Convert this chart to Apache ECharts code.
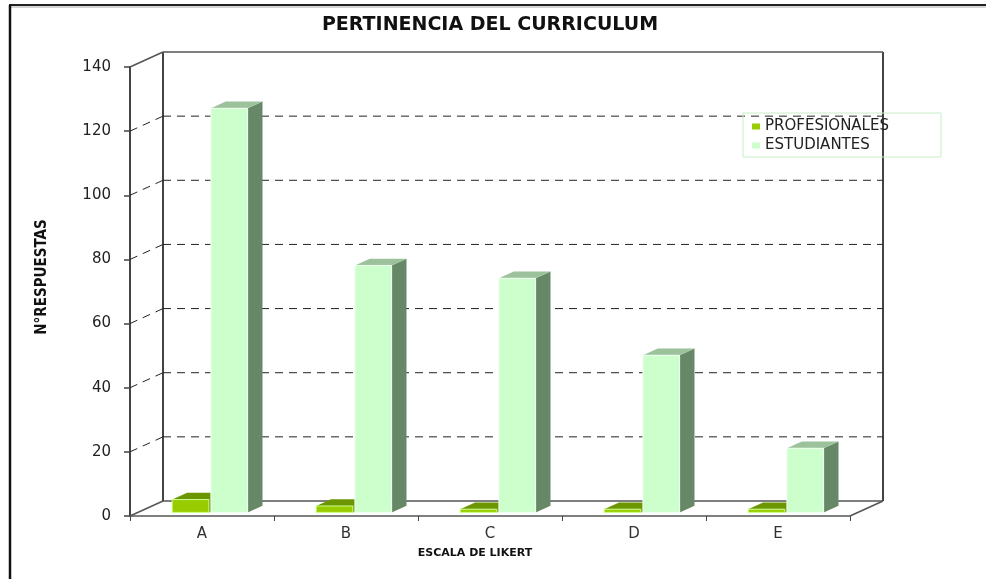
<!DOCTYPE html>
<html><head><meta charset="utf-8">
<script src="https://cdn.jsdelivr.net/npm/echarts@6/dist/echarts.min.js"></script>
<style>html,body{margin:0;padding:0;background:#fff}#c{width:986px;height:579px}</style>
</head><body><div id="c"></div>
<script>
const categories = ['A', 'B', 'C', 'D', 'E'];
const profesionales = [4, 2, 1, 1, 1];
const estudiantes = [126, 77, 73, 49, 20];
const yTicks = [0, 20, 40, 60, 80, 100, 120, 140];
const seriesNames = ['PROFESIONALES', 'ESTUDIANTES'];

const DX = 33, DY = -15;   // depth of the 3D box
const F = 0.24;            // front plane of bars (fraction of depth)
const BD = 0.45;           // bar depth (fraction of depth)

function makeBar(side, c) {
  return function (params, api) {
    const ci = api.value(0), v = api.value(1);
    const base = api.coord([ci, 0]);
    const top = api.coord([ci, v]);
    const band = api.size([1, 0])[0];
    const w = band * 0.255;
    const cx = base[0] + DX * F;
    const x0 = side < 0 ? cx - 1 - w : cx + 1;
    const x1 = x0 + w;
    const yb = base[1] + DY * F, yt = top[1] + DY * F;
    const ddx = DX * BD, ddy = DY * BD;
    return {
      type: 'group', children: [
        { type: 'polygon', shape: { points: [[x1, yb], [x1 + ddx, yb + ddy], [x1 + ddx, yt + ddy], [x1, yt]] }, style: { fill: c.side } },
        { type: 'polygon', shape: { points: [[x0, yt], [x0 + ddx, yt + ddy], [x1 + ddx, yt + ddy], [x1, yt]] }, style: { fill: c.top } },
        { type: 'rect', shape: { x: x0, y: yt, width: w, height: yb - yt }, style: { fill: c.front, stroke: c.edge, lineWidth: 1 } }
      ]
    };
  };
}

function renderBg(params, api) {
  const v = api.value(1);
  const cs = params.coordSys;
  const L = cs.x, R = cs.x + cs.width;
  const y = api.coord([0, v])[1];
  const first = v === yTicks[0], last = v === yTicks[yTicks.length - 1];
  const edge = first || last;
  const ls = edge ? { stroke: '#555', lineWidth: 1.5 } : { stroke: '#222', lineWidth: 1, lineDash: [8, 6] };
  const children = [
    { type: 'line', shape: { x1: L, y1: y, x2: L + DX, y2: y + DY }, style: ls },
    { type: 'line', shape: { x1: L + DX, y1: y + DY, x2: R + DX, y2: y + DY }, style: ls }
  ];
  if (first) {
    const yTop = api.coord([0, yTicks[yTicks.length - 1]])[1];
    children.push({ type: 'line', shape: { x1: L + DX, y1: yTop + DY, x2: L + DX, y2: y + DY }, style: { stroke: '#444', lineWidth: 2 } });
    children.push({ type: 'line', shape: { x1: R + DX, y1: yTop + DY, x2: R + DX, y2: y + DY }, style: { stroke: '#444', lineWidth: 2 } });
    children.push({ type: 'line', shape: { x1: R, y1: y, x2: R + DX, y2: y + DY }, style: { stroke: '#555', lineWidth: 1.5 } });
  }
  return { type: 'group', children };
}

const chart = echarts.init(document.getElementById('c'));
chart.setOption({
  animation: false,
  backgroundColor: '#fff',
  title: {
    text: 'PERTINENCIA DEL CURRICULUM', left: 485, top: 11, textAlign: 'center',
    textStyle: { fontFamily: 'DejaVu Sans', fontWeight: 'bold', fontSize: 19, color: '#111' }
  },
  legend: {
    data: seriesNames, orient: 'vertical', left: 743, top: 113,
    itemWidth: 8, itemHeight: 6, itemGap: 4, icon: 'rect',
    borderColor: '#c6efc6', borderWidth: 1, padding: [6, 52, 4, 9],
    textStyle: { fontFamily: 'DejaVu Sans', fontSize: 15, color: '#222' }
  },
  grid: { left: 130, right: 136, top: 67, bottom: 63, containLabel: false },
  xAxis: {
    type: 'category', data: categories,
    axisLine: { lineStyle: { color: '#555', width: 1.5 } },
    axisTick: { show: true, length: 5, lineStyle: { color: '#444' } },
    axisLabel: { color: '#333', fontSize: 15, fontFamily: 'DejaVu Sans', margin: 11 },
    name: 'ESCALA DE LIKERT', nameLocation: 'middle', nameGap: 32,
    nameTextStyle: { fontFamily: 'DejaVu Sans', fontWeight: 'bold', fontSize: 11, color: '#111', padding: [0, 30, 0, 0] }
  },
  yAxis: {
    type: 'value', min: 0, max: 140, interval: 20,
    axisLine: { show: true, lineStyle: { color: '#444', width: 2 } },
    axisTick: { show: true, length: 6, lineStyle: { color: '#444', width: 1.5 } },
    axisLabel: { color: '#222', fontSize: 15, fontFamily: 'DejaVu Sans', margin: 19 },
    splitLine: { show: false }
  },
  graphic: [
    { type: 'line', shape: { x1: 9, y1: 5, x2: 986, y2: 5 }, style: { stroke: '#222', lineWidth: 2 } },
    { type: 'line', shape: { x1: 9, y1: 7, x2: 986, y2: 7 }, style: { stroke: '#aaa', lineWidth: 1 } },
    { type: 'line', shape: { x1: 10, y1: 5, x2: 10, y2: 579 }, style: { stroke: '#111', lineWidth: 2.5 } },
    { type: 'text', x: 42, y: 277, rotation: Math.PI / 2,
      style: { text: 'N°RESPUESTAS', align: 'center', verticalAlign: 'middle', fill: '#111',
        font: 'bold 15px "DejaVu Sans Condensed", "DejaVu Sans"' } }
  ],
  series: [
    { type: 'custom', name: 'bg', z: 1, silent: true, renderItem: renderBg,
      data: yTicks.map(v => [0, v]), encode: { x: 0, y: 1 } },
    { type: 'custom', name: seriesNames[0], z: 2, itemStyle: { color: '#99cc00' },
      renderItem: makeBar(-1, { front: '#99cc00', top: '#6b9600', side: '#5e8200', edge: '#ccff88' }),
      data: profesionales.map((v, i) => [i, v]), encode: { x: 0, y: 1 } },
    { type: 'custom', name: seriesNames[1], z: 3, itemStyle: { color: '#ccffcc' },
      renderItem: makeBar(1, { front: '#ccffcc', top: '#9cc29c', side: '#668866', edge: '#eeffee' }),
      data: estudiantes.map((v, i) => [i, v]), encode: { x: 0, y: 1 } }
  ]
});
</script>
</body></html>
